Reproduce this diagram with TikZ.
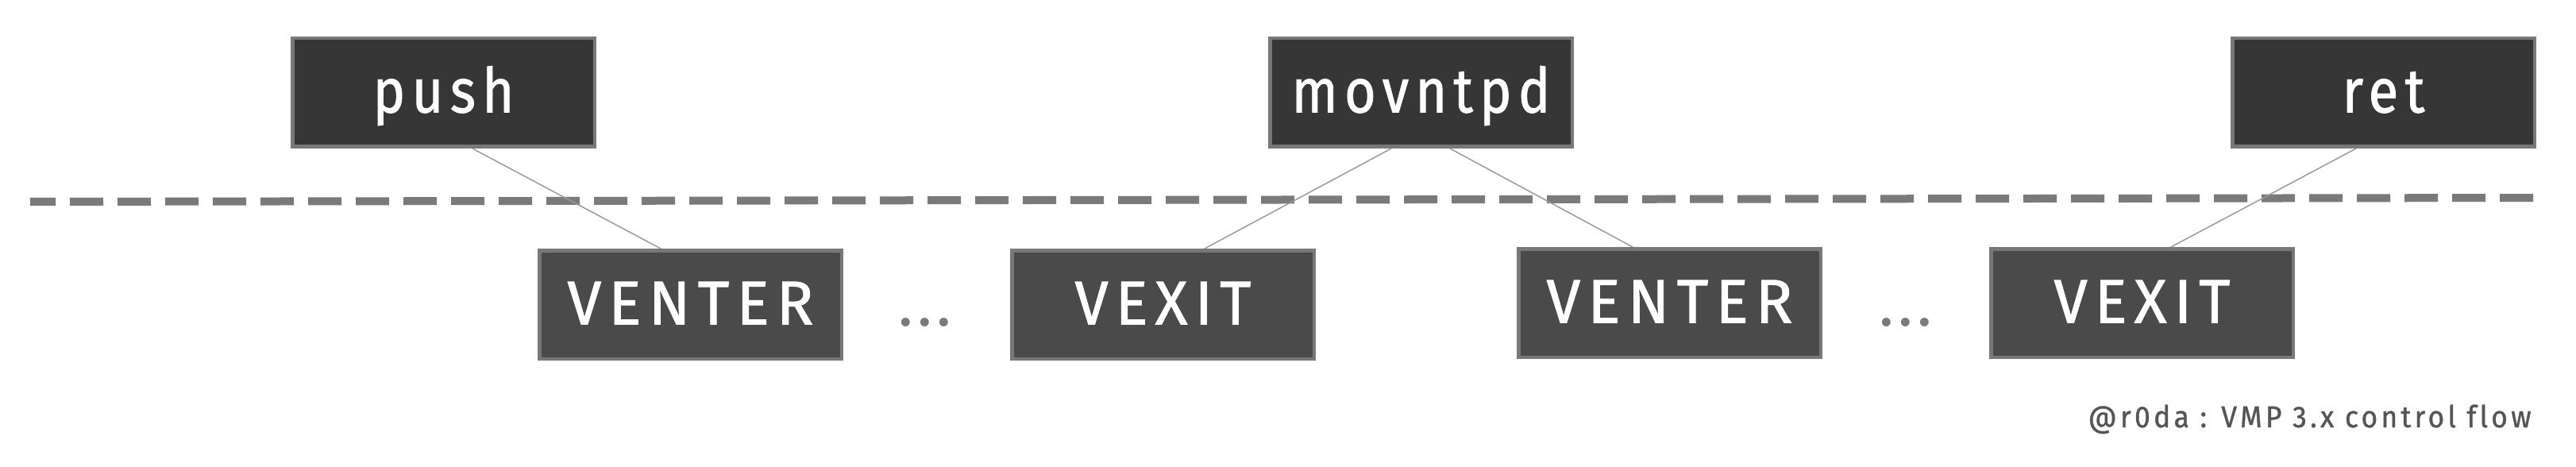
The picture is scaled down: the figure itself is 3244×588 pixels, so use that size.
\documentclass[tikz,border=0pt]{standalone}
\usepackage{fontspec}
\usepackage{graphicx}
\setmainfont{Fira Sans}
\newfontfamily\boxfont[LetterSpace=12, FakeBold=1.2, Ligatures=NoCommon]{Fira Sans}
\newfontfamily\dotsfont[LetterSpace=6.5]{Fira Sans}
\newfontfamily\capfont[LetterSpace=12, FakeBold=1, Ligatures=NoCommon]{Fira Sans}
\usetikzlibrary{backgrounds}
\definecolor{topfill}{HTML}{363636}
\definecolor{botfill}{HTML}{4A4A4A}
\definecolor{edgec}{HTML}{787878}
\definecolor{wirec}{HTML}{9A9A9A}
\definecolor{dashc}{HTML}{7A7A7A}
\definecolor{capc}{HTML}{555555}
\newcommand{\fitw}[2]{\resizebox{#1}{\height}{#2}}
\tikzset{
  opbox/.style={draw=edgec, line width=2.25pt, rectangle, inner sep=0pt,
    minimum width=190.25pt, minimum height=68.25pt,
    text height=25pt, text depth=0pt, text=white,
    font=\boxfont\fontsize{39pt}{44pt}\selectfont},
  topbox/.style={opbox, fill=topfill},
  botbox/.style={opbox, fill=botfill},
  wire/.style={draw=wirec, line width=0.75pt},
  sepline/.style={draw=dashc, line width=5pt, dash pattern=on 21pt off 9pt, dash phase=5pt},
  dotstxt/.style={anchor=base, inner sep=0pt, text=dashc, font=\dotsfont\fontsize{39pt}{44pt}\selectfont},
  captxt/.style={anchor=base east, inner sep=0pt, text=capc, font=\capfont\fontsize{19pt}{22pt}\selectfont}
}
\begin{document}
\begin{tikzpicture}[x=0.5pt, y=-0.5pt]
\useasboundingbox (0,0) rectangle (3244,588);
% top row
\node[topbox] (push) at (558.5,116.5) {\fitw{89pt}{push}};
\node[topbox] (movntpd) at (1789.5,116.5) {\fitw{163pt}{movntpd}};
\node[topbox] (ret) at (3001.5,116.5) {\fitw{52pt}{ret}};
% bottom row
\node[botbox] (venter1) at (869.5,383.5) {\fitw{155pt}{VENTER}};
\node[botbox] (vexit1) at (1464.5,383.5) {\fitw{111pt}{VEXIT}};
\node[botbox] (venter2) at (2102.5,381.5) {\fitw{155pt}{VENTER}};
\node[botbox] (vexit2) at (2697.5,381.5) {\fitw{111pt}{VEXIT}};
% dots
\node[dotstxt] (dots1) at (1165,410) {...};
\node[dotstxt] (dots2) at (2400,410) {...};
% caption
\node[captxt] (cap) at (3188,538) {\fitw{279pt}{@r0da : VMP 3.x control flow}};
% separator and connectors
\coordinate (dl) at (38,254);
\coordinate (dr) at (3190,249);
\begin{scope}[on background layer]
\draw[sepline] (dl) -- (dr);
\draw[wire] ([xshift=18.25pt]push.south) -- ([xshift=-18.75pt]venter1.north);
\draw[wire] ([xshift=-18.75pt]movntpd.south) -- ([xshift=26.25pt]vexit1.north);
\draw[wire] ([xshift=18.25pt]movntpd.south) -- ([xshift=-23.25pt]venter2.north);
\draw[wire] ([xshift=-17.25pt]ret.south) -- ([xshift=18.25pt]vexit2.north);
\end{scope}
\end{tikzpicture}
\end{document}
